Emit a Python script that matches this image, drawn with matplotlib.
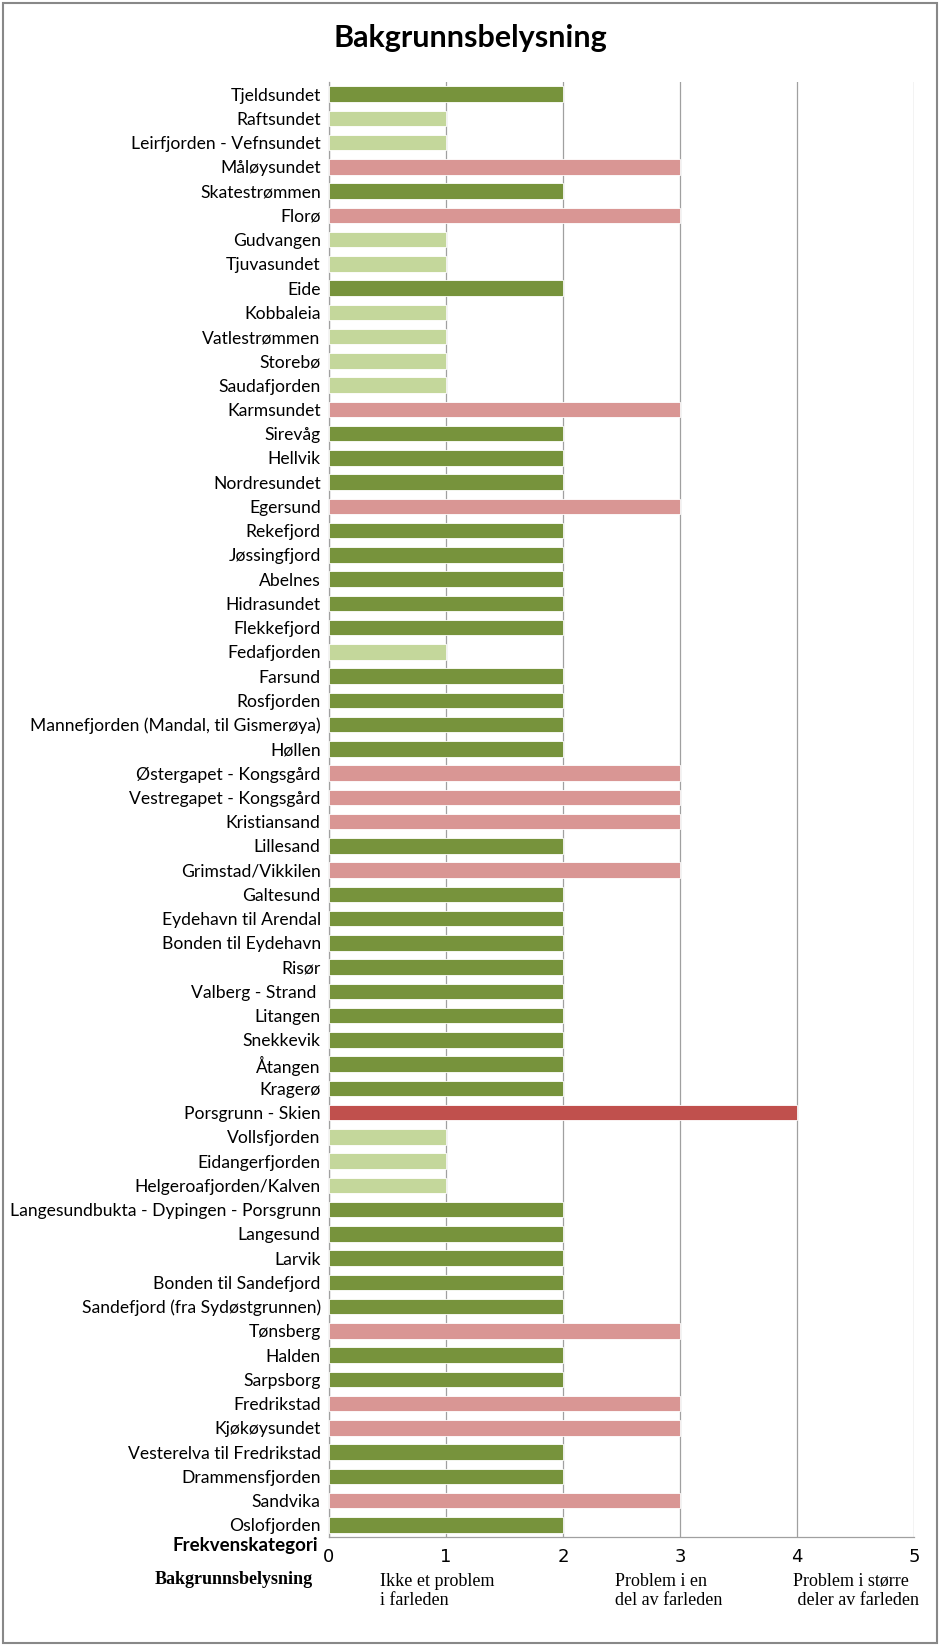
import matplotlib.pyplot as plt
from matplotlib.patches import Rectangle

places = ['Tjeldsundet', 'Raftsundet', 'Leirfjorden - Vefnsundet', 'Måløysundet', 'Skatestrømmen',
          'Florø', 'Gudvangen', 'Tjuvasundet', 'Eide', 'Kobbaleia', 'Vatlestrømmen', 'Storebø',
          'Saudafjorden', 'Karmsundet', 'Sirevåg', 'Hellvik', 'Nordresundet', 'Egersund',
          'Rekefjord', 'Jøssingfjord', 'Abelnes', 'Hidrasundet', 'Flekkefjord', 'Fedafjorden',
          'Farsund', 'Rosfjorden', 'Mannefjorden (Mandal, til Gismerøya)', 'Høllen',
          'Østergapet - Kongsgård', 'Vestregapet - Kongsgård', 'Kristiansand', 'Lillesand',
          'Grimstad/Vikkilen', 'Galtesund', 'Eydehavn til Arendal', 'Bonden til Eydehavn', 'Risør',
          'Valberg - Strand ', 'Litangen', 'Snekkevik', 'Åtangen', 'Kragerø', 'Porsgrunn - Skien',
          'Vollsfjorden', 'Eidangerfjorden', 'Helgeroafjorden/Kalven',
          'Langesundbukta - Dypingen - Porsgrunn', 'Langesund', 'Larvik', 'Bonden til Sandefjord',
          'Sandefjord (fra Sydøstgrunnen)', 'Tønsberg', 'Halden', 'Sarpsborg', 'Fredrikstad',
          'Kjøkøysundet', 'Vesterelva til Fredrikstad', 'Drammensfjorden', 'Sandvika', 'Oslofjorden']
values = [2, 1, 1, 3, 2, 3, 1, 1, 2, 1, 1, 1, 1, 3, 2, 2, 2, 3, 2, 2, 2, 2, 2, 1, 2, 2, 2, 2, 3, 3,
          3, 2, 3, 2, 2, 2, 2, 2, 2, 2, 2, 2, 4, 1, 1, 1, 2, 2, 2, 2, 2, 3, 2, 2, 3, 3, 2, 2, 3, 2]

# colour per frequency category
cat_colors = {1: '#C4D79B', 2: '#77933C', 3: '#D99694', 4: '#C0504D'}
colors = [cat_colors[v] for v in values]

fig = plt.figure(figsize=(9.4, 16.46), dpi=100)
ax = fig.add_axes([0.35, 0.0662, 0.6223, 0.8840])

y = list(range(len(places)))
ax.barh(y, values, height=0.64, color=colors, edgecolor='white', linewidth=0.6, zorder=3)
ax.set_ylim(len(places) - 0.5, -0.5)
ax.set_xlim(0, 5)
ax.set_yticks(y)
ax.set_yticklabels(places, family='Lato', fontsize=12.6)
ax.tick_params(axis='y', length=0, pad=6)
ax.set_xticks(range(6))
ax.set_xticklabels([str(i) for i in range(6)], family='Liberation Sans Narrow', fontsize=13)
ax.tick_params(axis='x', length=0, pad=8)
ax.grid(axis='x', color='#a0a0a0', linewidth=0.9, zorder=0)
for side in ['top', 'right']:
    ax.spines[side].set_visible(False)
for side in ['left', 'bottom']:
    ax.spines[side].set_color('#a0a0a0')
    ax.spines[side].set_linewidth(0.9)

fig.text(0.5, 0.977, 'Bakgrunnsbelysning', ha='center', va='center',
         family='Lato', fontweight='bold', fontsize=22)
fig.text(318 / 940, 1 - 1545 / 1646, 'Frekvenskategori', ha='right', va='center',
         family='Lato', fontweight='bold', fontsize=13.5)

serif = dict(family='Liberation Serif', fontsize=13, linespacing=1.2, ha='left', va='center')
fig.text(155 / 940, 1 - 1580 / 1646, 'Bakgrunnsbelysning', fontweight='bold', **serif)
fig.text(380 / 940, 1 - 1591 / 1646, 'Ikke et problem\ni farleden', **serif)
fig.text(615 / 940, 1 - 1591 / 1646, 'Problem i en\ndel av farleden', **serif)
fig.text(793 / 940, 1 - 1591 / 1646, 'Problem i større\n deler av farleden', **serif)

fig.patches.append(Rectangle((0.003, 0.002), 0.994, 0.996, transform=fig.transFigure,
                             fill=False, edgecolor='#888888', linewidth=1.5))

fig.savefig('out.png', dpi=100)
